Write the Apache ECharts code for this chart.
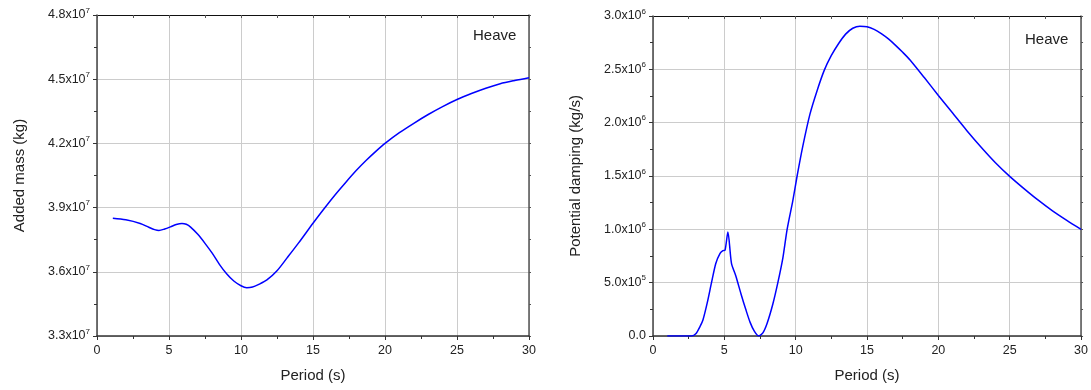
<!DOCTYPE html>
<html lang="en">
  <head>
    <meta charset="UTF-8" />
    <script src="https://cdn.jsdelivr.net/npm/echarts@6.0.0/dist/echarts.min.js"></script>
    <title>Heave added mass and damping</title>
    <style>
      body { margin: 0; background: #fff; }
      #container { width: 1091px; height: 390px; }
    </style>
  </head>
  <body>
    <div id="container"></div>
    <script>
      // period (s) and added mass (kg)
      const massPeriod = [1.1, 2.0, 3.0, 3.6, 4.0, 4.3, 4.7, 5.1, 5.5, 5.9, 6.2, 6.5, 7.0, 7.5, 8.0, 8.5, 9.0, 9.5, 10.0, 10.4, 10.8, 11.2, 11.8, 12.5, 13.2, 14.0, 15.0, 15.7, 16.5, 17.3, 18.0, 18.7, 19.4, 20.0, 21.0, 22.0, 23.0, 24.0, 25.0, 26.0, 27.0, 28.0, 29.0, 30.0];
      const addedMass = [3.850e7, 3.843e7, 3.826e7, 3.808e7, 3.797e7, 3.793e7, 3.800e7, 3.810e7, 3.821e7, 3.826e7, 3.822e7, 3.809e7, 3.775e7, 3.733e7, 3.687e7, 3.635e7, 3.591e7, 3.557e7, 3.535e7, 3.526e7, 3.529e7, 3.540e7, 3.562e7, 3.605e7, 3.665e7, 3.735e7, 3.827e7, 3.889e7, 3.957e7, 4.020e7, 4.073e7, 4.121e7, 4.165e7, 4.200e7, 4.250e7, 4.294e7, 4.335e7, 4.372e7, 4.405e7, 4.433e7, 4.458e7, 4.479e7, 4.494e7, 4.507e7];

      // period (s) and potential damping (kg/s)
      const dampPeriod = [1.0, 2.7, 3.0, 3.3, 3.5, 3.8, 4.1, 4.4, 4.7, 4.9, 5.05, 5.25, 5.5, 5.8, 6.2, 6.5, 6.8, 7.1, 7.4, 7.7, 8.0, 8.4, 8.75, 9.1, 9.4, 9.8, 10.1, 10.5, 11.0, 11.5, 12.0, 12.5, 13.0, 13.5, 14.0, 14.5, 15.0, 15.5, 16.0, 16.5, 17.0, 17.5, 18.0, 19.0, 20.0, 21.0, 22.0, 23.0, 24.0, 25.0, 26.0, 27.0, 28.0, 29.0, 30.0];
      const damping = [0, 0, 0.02e6, 0.09e6, 0.15e6, 0.31e6, 0.5e6, 0.68e6, 0.775e6, 0.8e6, 0.805e6, 0.975e6, 0.68e6, 0.565e6, 0.38e6, 0.25e6, 0.13e6, 0.045e6, 0.0, 0.03e6, 0.12e6, 0.3e6, 0.5e6, 0.73e6, 1.0e6, 1.27e6, 1.5e6, 1.78e6, 2.08e6, 2.3e6, 2.49e6, 2.63e6, 2.74e6, 2.83e6, 2.885e6, 2.905e6, 2.9e6, 2.875e6, 2.835e6, 2.785e6, 2.725e6, 2.66e6, 2.59e6, 2.425e6, 2.255e6, 2.09e6, 1.925e6, 1.77e6, 1.625e6, 1.497e6, 1.382e6, 1.273e6, 1.173e6, 1.084e6, 1.0e6];

      const font = "Liberation Sans, Arial, sans-serif";
      const ink = "#222";

      function sciLabel(v) {
        if (v === 0) return "{a|0.0}";
        const e = Math.floor(Math.log10(v) + 1e-9);
        const m = (v / Math.pow(10, e)).toFixed(1);
        return "{a|" + m + "x10}{s|" + e + "}";
      }
      const sciRich = {
        a: { fontSize: 12.5, color: ink, fontFamily: font },
        s: { fontSize: 8, color: ink, fontFamily: font, padding: [0, 0, 9, 0] }
      };

      function bottomAxis(grid) {
        return {
          type: "value", gridIndex: grid, min: 0, max: 30, interval: 5,
          name: "Period (s)", nameLocation: "middle", nameGap: 32,
          nameTextStyle: { fontSize: 15, color: ink, fontFamily: font },
          axisLine: { lineStyle: { color: "#333", width: 1.5 } },
          axisTick: { inside: false, length: 4, lineStyle: { color: "#333" } },
          minorTick: { show: true, splitNumber: 2, length: 3, lineStyle: { color: "#333" } },
          axisLabel: { fontSize: 12.5, color: ink, fontFamily: font, margin: 8 },
          splitLine: { show: true, lineStyle: { color: "#cccccc", width: 1 } }
        };
      }
      function topAxis(grid) {
        return {
          type: "value", gridIndex: grid, position: "top", min: 0, max: 30, interval: 5,
          axisLine: { onZero: false, lineStyle: { color: "#111", width: 1 } },
          axisTick: { inside: true, length: 3, lineStyle: { color: "#555" } },
          minorTick: { show: true, splitNumber: 2, length: 3, lineStyle: { color: "#555" } },
          axisLabel: { show: false },
          splitLine: { show: false }
        };
      }
      function leftAxis(grid, name, min, max, step) {
        return {
          type: "value", gridIndex: grid, min: min, max: max, interval: step,
          name: name, nameLocation: "middle", nameGap: 70,
          nameTextStyle: { fontSize: 15, color: ink, fontFamily: font },
          axisLine: { show: true, lineStyle: { color: "#444", width: 1.5 } },
          axisTick: { show: true, length: 4, lineStyle: { color: "#333" } },
          minorTick: { show: true, splitNumber: 2, length: 3, lineStyle: { color: "#333" } },
          axisLabel: { margin: 7, formatter: sciLabel, rich: sciRich },
          splitLine: { show: true, lineStyle: { color: "#cccccc", width: 1 } }
        };
      }
      function rightAxis(grid, min, max, step) {
        return {
          type: "value", gridIndex: grid, position: "right", min: min, max: max, interval: step,
          axisLine: { show: true, onZero: false, lineStyle: { color: "#555", width: 1.5 } },
          axisTick: { show: true, length: 2, lineStyle: { color: "#555" } },
          minorTick: { show: true, splitNumber: 2, length: 2, lineStyle: { color: "#555" } },
          axisLabel: { show: false },
          splitLine: { show: false }
        };
      }

      const chart = echarts.init(document.getElementById("container"), null, { renderer: "canvas" });

      const option = {
        animation: false,
        grid: [
          { left: 97, right: 562, top: 15, bottom: 54 },
          { left: 653, right: 8, top: 16, bottom: 54 }
        ],
        xAxis: [bottomAxis(0), topAxis(0), bottomAxis(1), topAxis(1)],
        yAxis: [
          leftAxis(0, "Added mass (kg)", 3.3e7, 4.8e7, 3e6),
          rightAxis(0, 3.3e7, 4.8e7, 3e6),
          leftAxis(1, "Potential damping (kg/s)", 0, 3e6, 5e5),
          rightAxis(1, 0, 3e6, 5e5)
        ],
        graphic: [
          { type: "text", left: 473, top: 28, style: { text: "Heave", fontSize: 15, fill: ink, fontFamily: font } },
          { type: "text", left: 1025, top: 32, style: { text: "Heave", fontSize: 15, fill: ink, fontFamily: font } }
        ],
        series: [
          {
            type: "line", xAxisIndex: 0, yAxisIndex: 0, showSymbol: false, smooth: 0.3,
            lineStyle: { color: "#0000ff", width: 1.5 },
            data: massPeriod.map((t, i) => [t, addedMass[i]])
          },
          {
            type: "line", xAxisIndex: 2, yAxisIndex: 2, showSymbol: false, smooth: 0.25,
            lineStyle: { color: "#0000ff", width: 1.5 },
            data: dampPeriod.map((t, i) => [t, damping[i]])
          }
        ]
      };

      chart.setOption(option);
      window.addEventListener("resize", chart.resize);
    </script>
  </body>
</html>
